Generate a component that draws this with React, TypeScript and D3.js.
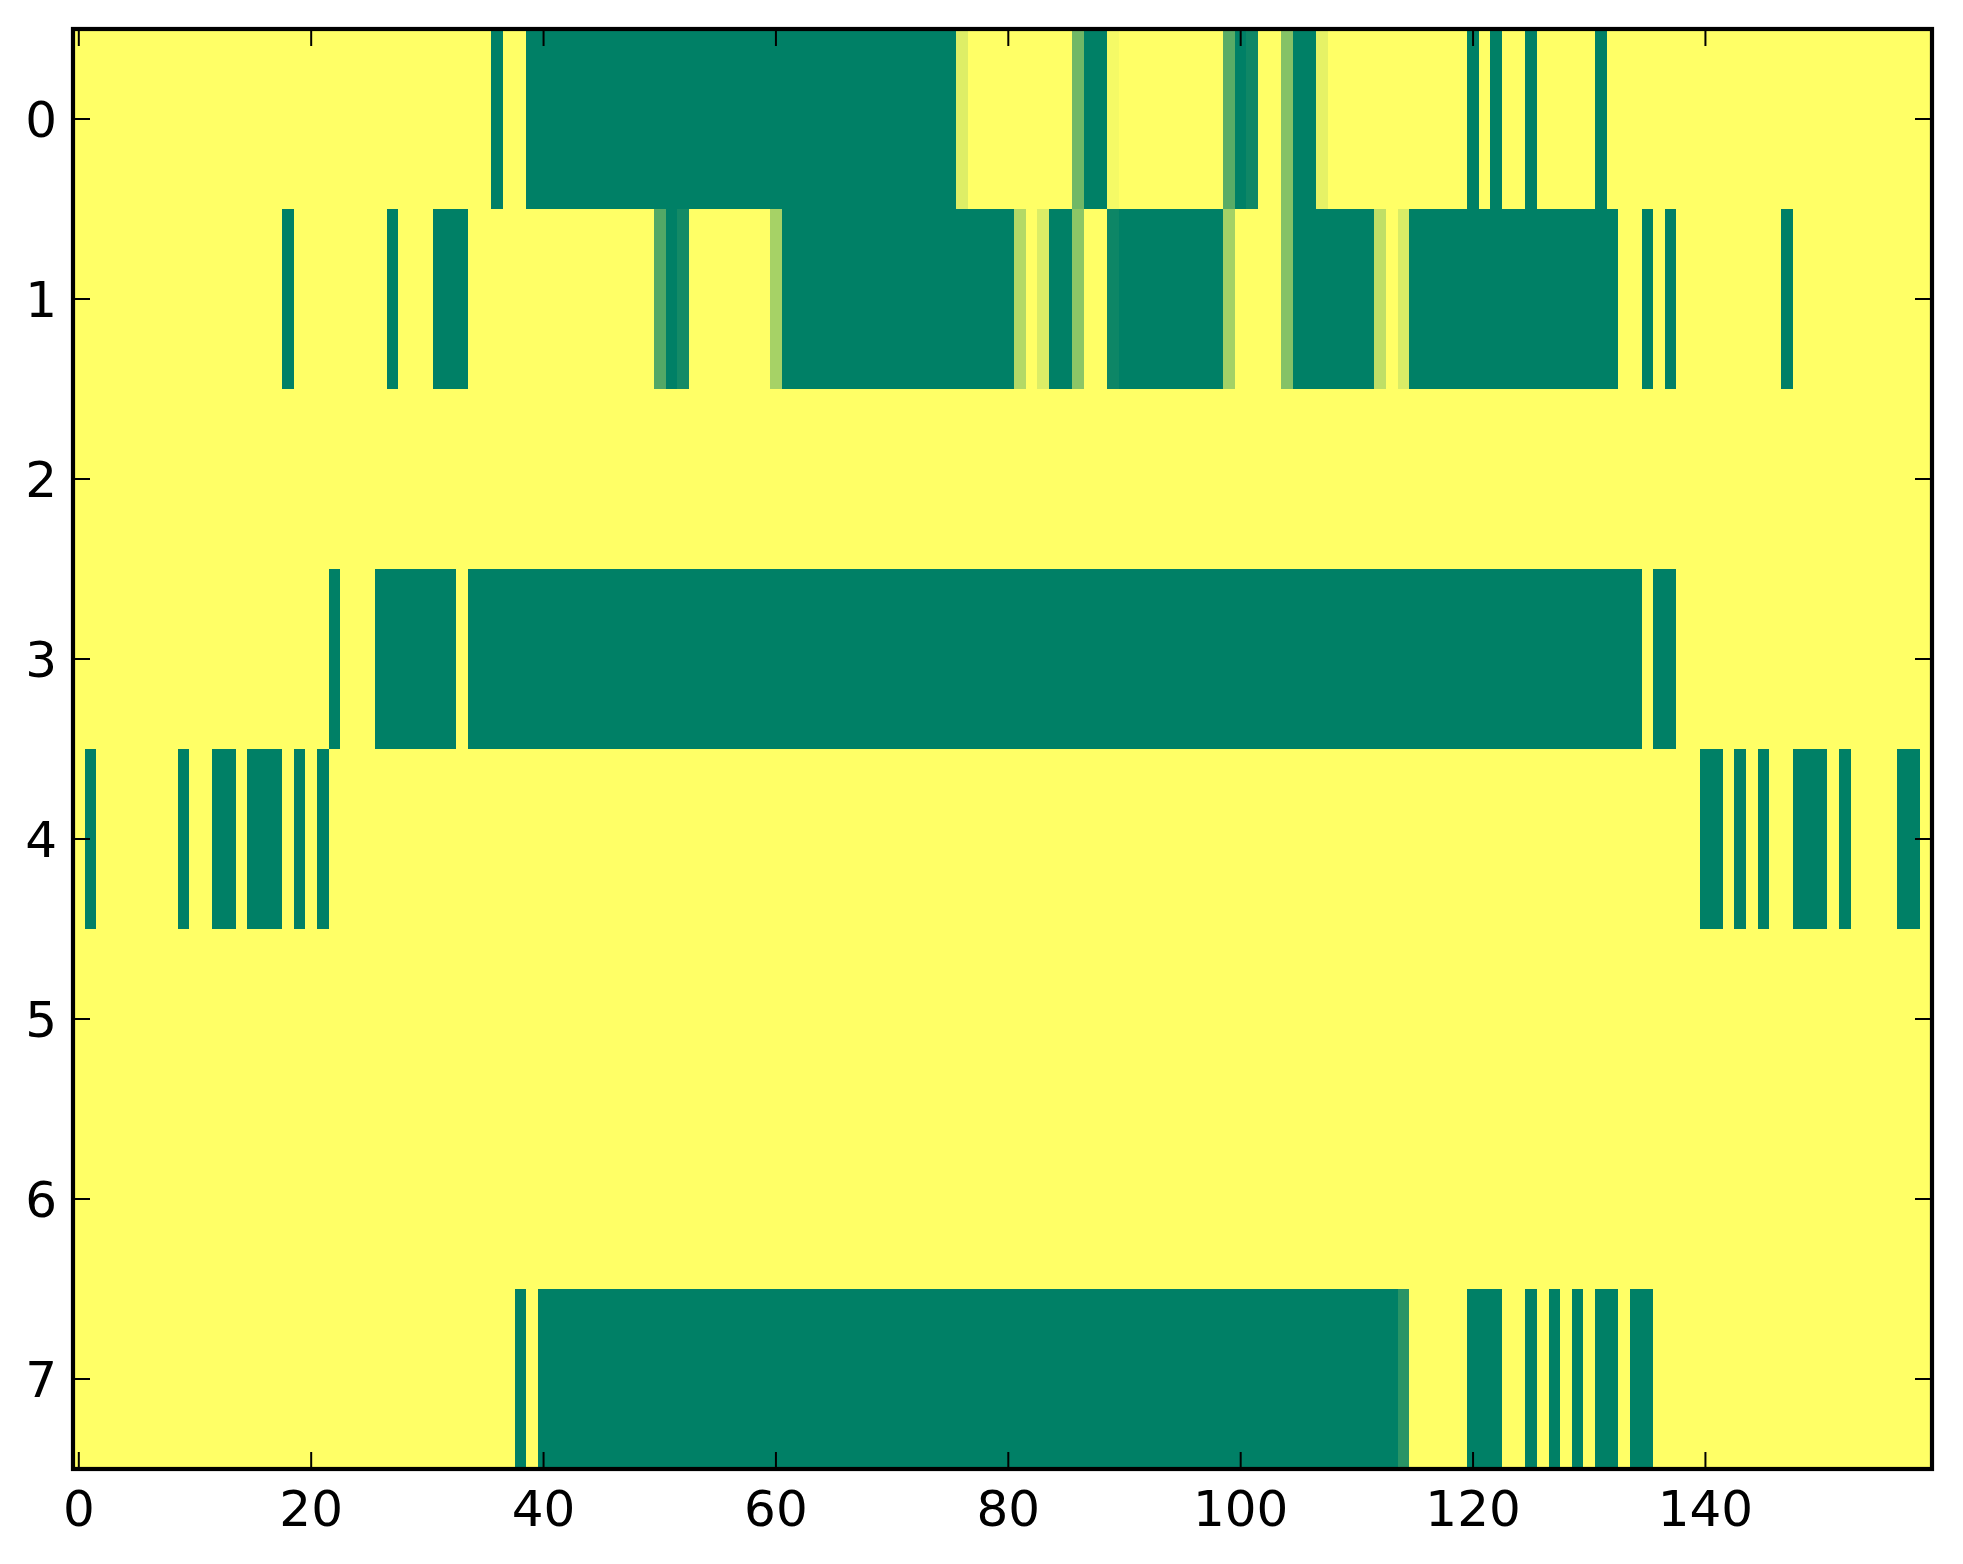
import React from "react";
import * as d3 from "d3";

// Each row: runs of [startCol, endCol, value]; cells not listed have value 1 (yellow)
const N_COLS = 160;
const rowLabels = [0, 1, 2, 3, 4, 5, 6, 7];
const xTicks = [0, 20, 40, 60, 80, 100, 120, 140];

const row0Runs: [number, number, number][] = [
  [36, 36, 0], [39, 75, 0], [76, 76, 0.87], [86, 86, 0.44], [87, 88, 0], [89, 89, 0.96],
  [99, 99, 0.35], [100, 100, 0], [101, 101, 0.06], [104, 104, 0.52], [105, 106, 0], [107, 107, 0.9],
  [120, 120, 0], [122, 122, 0], [125, 125, 0], [131, 131, 0],
];
const row1Runs: [number, number, number][] = [
  [18, 18, 0], [27, 27, 0], [31, 33, 0], [50, 50, 0.32], [51, 51, 0], [52, 52, 0.08],
  [60, 60, 0.65], [61, 80, 0], [81, 81, 0.7], [83, 83, 0.86], [84, 85, 0], [86, 86, 0.55],
  [89, 89, 0.05], [90, 98, 0], [99, 99, 0.64], [104, 104, 0.52], [105, 111, 0], [112, 112, 0.75],
  [114, 114, 0.85], [115, 132, 0], [135, 135, 0], [137, 137, 0], [147, 147, 0],
];
const row2Runs: [number, number, number][] = [];
const row3Runs: [number, number, number][] = [
  [22, 22, 0], [26, 32, 0], [34, 134, 0], [136, 137, 0],
];
const row4Runs: [number, number, number][] = [
  [1, 1, 0], [9, 9, 0], [12, 13, 0], [15, 17, 0], [19, 19, 0], [21, 21, 0],
  [140, 141, 0], [143, 143, 0], [145, 145, 0], [148, 150, 0], [152, 152, 0], [157, 158, 0],
];
const row5Runs: [number, number, number][] = [];
const row6Runs: [number, number, number][] = [];
const row7Runs: [number, number, number][] = [
  [38, 38, 0], [40, 113, 0], [114, 114, 0.16], [120, 122, 0], [125, 125, 0],
  [127, 127, 0], [129, 129, 0], [131, 132, 0], [134, 135, 0],
];

const allRuns = [row0Runs, row1Runs, row2Runs, row3Runs, row4Runs, row5Runs, row6Runs, row7Runs];

function buildMatrix(): number[][] {
  return allRuns.map((runs) => {
    const row = new Array(N_COLS).fill(1);
    runs.forEach(([s, e, v]) => {
      for (let c = s; c <= e; c++) row[c] = v;
    });
    return row;
  });
}

const W = 1963;
const H = 1564;
const left = 73;
const right = 1932;
const top = 29;
const bottom = 1469;
const FONT = "'DejaVu Sans', sans-serif";
const FS = 50;
const TICK = 17;

export default function App() {
  const matrix = buildMatrix();
  const x = d3.scaleLinear().domain([-0.5, N_COLS - 0.5]).range([left, right]);
  const y = d3.scaleLinear().domain([-0.5, rowLabels.length - 0.5]).range([top, bottom]);
  // matplotlib "summer" colormap: (v, 0.5 + v/2, 0.4)
  const color = (v: number) => d3.rgb(v * 255, (0.5 + v / 2) * 255, 0.4 * 255).toString();

  const cells: React.ReactNode[] = [];
  matrix.forEach((row, r) => {
    // merge equal neighbours into single rects
    let c = 0;
    while (c < row.length) {
      let e = c;
      while (e + 1 < row.length && row[e + 1] === row[c]) e++;
      const x0 = x(c - 0.5);
      const x1 = x(e + 0.5);
      const y0 = y(r - 0.5);
      const y1 = y(r + 0.5);
      cells.push(
        <rect key={`${r}-${c}`} x={x0} y={y0} width={x1 - x0} height={y1 - y0} fill={color(row[c])} />
      );
      c = e + 1;
    }
  });

  return (
    <div style={{ position: "absolute", left: 0, top: 0, background: "#fff" }}>
      <svg width={W} height={H} viewBox={`0 0 ${W} ${H}`} style={{ display: "block" }}>
        <rect x={0} y={0} width={W} height={H} fill="#fff" />
        <g shapeRendering="crispEdges">{cells}</g>
        {/* ticks */}
        <g stroke="#000" strokeWidth={2}>
          {xTicks.map((t) => (
            <g key={`xt${t}`}>
              <line x1={x(t)} x2={x(t)} y1={bottom} y2={bottom - TICK} />
              <line x1={x(t)} x2={x(t)} y1={top} y2={top + TICK} />
            </g>
          ))}
          {rowLabels.map((t) => (
            <g key={`yt${t}`}>
              <line x1={left} x2={left + TICK} y1={y(t)} y2={y(t)} />
              <line x1={right} x2={right - TICK} y1={y(t)} y2={y(t)} />
            </g>
          ))}
        </g>
        <rect x={left} y={top} width={right - left} height={bottom - top} fill="none" stroke="#000" strokeWidth={4.2} />
        {/* labels */}
        <g fontFamily={FONT} fontSize={FS} fill="#000">
          {xTicks.map((t) => (
            <text key={`xl${t}`} x={x(t)} y={bottom + 57} textAnchor="middle">
              {t}
            </text>
          ))}
          {rowLabels.map((t) => (
            <text key={`yl${t}`} x={57} y={y(t) + 18} textAnchor="end">
              {t}
            </text>
          ))}
        </g>
      </svg>
    </div>
  );
}
